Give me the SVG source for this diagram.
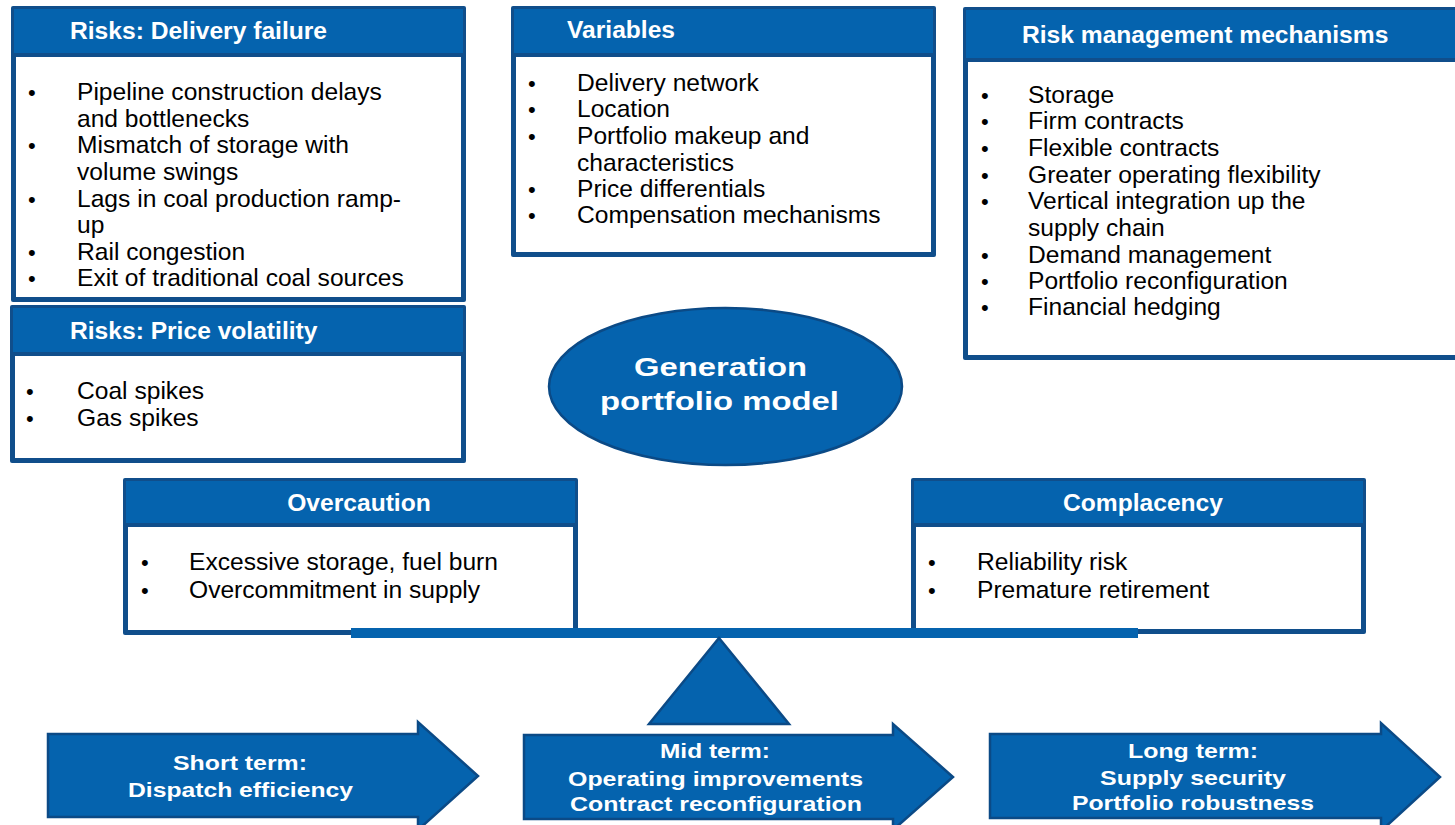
<svg xmlns="http://www.w3.org/2000/svg" width="1455" height="825" viewBox="0 0 1455 825">
  <style>
    .frame { fill: #104E8B; }
    .head { fill: #0563AE; }
    .body { fill: #FFFFFF; }
    .title { font-family: "Liberation Sans", Arial, sans-serif; font-weight: bold; font-size: 24.6px; fill: #FFFFFF; }
    .item { font-family: "Liberation Sans", Arial, sans-serif; font-size: 24.6px; fill: #000000; }
    .dot { font-family: "Liberation Sans", Arial, sans-serif; font-size: 22px; fill: #000000; }
    .shape { fill: #0563AE; stroke: #0B4A86; stroke-width: 2.5; stroke-linejoin: miter; }
    .label { font-family: "Liberation Sans", Arial, sans-serif; font-weight: bold; font-size: 21px; fill: #FFFFFF; text-anchor: middle; }
    .big { font-family: "Liberation Sans", Arial, sans-serif; font-weight: bold; font-size: 25px; fill: #FFFFFF; text-anchor: middle; }
  </style>

  <rect x="0" y="0" width="1455" height="825" fill="#FFFFFF"/>

  <!-- Risks: delivery failure -->
  <g id="risks-delivery">
    <rect class="frame" x="11" y="6" width="455" height="296" rx="2"/>
    <rect class="head" x="14" y="9" width="449" height="44"/>
    <rect class="body" x="16" y="57" width="445" height="240"/>
    <text class="title" x="70" y="39">Risks: Delivery failure</text>
    <g class="dot">
      <text x="28" y="100">•</text>
      <text x="28" y="153">•</text>
      <text x="28" y="207">•</text>
      <text x="28" y="260">•</text>
      <text x="28" y="286">•</text>
    </g>
    <g class="item">
      <text x="77" y="100">Pipeline construction delays</text>
      <text x="77" y="127">and bottlenecks</text>
      <text x="77" y="153">Mismatch of storage with</text>
      <text x="77" y="180">volume swings</text>
      <text x="77" y="207">Lags in coal production ramp-</text>
      <text x="77" y="233">up</text>
      <text x="77" y="260">Rail congestion</text>
      <text x="77" y="286">Exit of traditional coal sources</text>
    </g>
  </g>

  <!-- Risks: price volatility -->
  <g id="risks-price">
    <rect class="frame" x="10" y="305" width="456" height="158" rx="2"/>
    <rect class="head" x="13" y="308" width="450" height="44"/>
    <rect class="body" x="15" y="356" width="446" height="102"/>
    <text class="title" x="70" y="339">Risks: Price volatility</text>
    <g class="dot">
      <text x="26" y="399">•</text>
      <text x="26" y="426">•</text>
    </g>
    <g class="item">
      <text x="77" y="399">Coal spikes</text>
      <text x="77" y="426">Gas spikes</text>
    </g>
  </g>

  <!-- Variables -->
  <g id="variables">
    <rect class="frame" x="511" y="6" width="425" height="251" rx="2"/>
    <rect class="head" x="514" y="9" width="419" height="44"/>
    <rect class="body" x="516" y="57" width="415" height="195"/>
    <text class="title" x="567" y="38">Variables</text>
    <g class="dot">
      <text x="528" y="91">•</text>
      <text x="528" y="117">•</text>
      <text x="528" y="144">•</text>
      <text x="528" y="197">•</text>
      <text x="528" y="223">•</text>
    </g>
    <g class="item">
      <text x="577" y="91">Delivery network</text>
      <text x="577" y="117">Location</text>
      <text x="577" y="144">Portfolio makeup and</text>
      <text x="577" y="171">characteristics</text>
      <text x="577" y="197">Price differentials</text>
      <text x="577" y="223">Compensation mechanisms</text>
    </g>
  </g>

  <!-- Risk management mechanisms -->
  <g id="risk-management">
    <rect class="frame" x="963" y="7" width="520" height="353" rx="2"/>
    <rect class="head" x="966" y="10" width="514" height="48"/>
    <rect class="body" x="968" y="62" width="510" height="293"/>
    <text class="title" x="1022" y="43">Risk management mechanisms</text>
    <g class="dot">
      <text x="981" y="103">•</text>
      <text x="981" y="129">•</text>
      <text x="981" y="156">•</text>
      <text x="981" y="183">•</text>
      <text x="981" y="209">•</text>
      <text x="981" y="263">•</text>
      <text x="981" y="289">•</text>
      <text x="981" y="315">•</text>
    </g>
    <g class="item">
      <text x="1028" y="103">Storage</text>
      <text x="1028" y="129">Firm contracts</text>
      <text x="1028" y="156">Flexible contracts</text>
      <text x="1028" y="183">Greater operating flexibility</text>
      <text x="1028" y="209">Vertical integration up the</text>
      <text x="1028" y="236">supply chain</text>
      <text x="1028" y="263">Demand management</text>
      <text x="1028" y="289">Portfolio reconfiguration</text>
      <text x="1028" y="315">Financial hedging</text>
    </g>
  </g>

  <!-- Central model -->
  <g id="generation-model">
    <ellipse class="shape" cx="725.5" cy="386.5" rx="176.5" ry="78.5" stroke-width="2"/>
    <text class="big" x="720.5" y="376" textLength="173" lengthAdjust="spacingAndGlyphs">Generation</text>
    <text class="big" x="719.5" y="410" textLength="239" lengthAdjust="spacingAndGlyphs">portfolio model</text>
  </g>

  <!-- Overcaution -->
  <g id="overcaution">
    <rect class="frame" x="123" y="478" width="455" height="157" rx="2"/>
    <rect class="head" x="126" y="481" width="449" height="42"/>
    <rect class="body" x="128" y="527" width="445" height="103"/>
    <text class="title" x="359" y="511" text-anchor="middle">Overcaution</text>
    <g class="dot">
      <text x="141" y="570">•</text>
      <text x="141" y="598">•</text>
    </g>
    <g class="item">
      <text x="189" y="570">Excessive storage, fuel burn</text>
      <text x="189" y="598">Overcommitment in supply</text>
    </g>
  </g>

  <!-- Complacency -->
  <g id="complacency">
    <rect class="frame" x="911" y="478" width="455" height="156" rx="2"/>
    <rect class="head" x="914" y="481" width="449" height="42"/>
    <rect class="body" x="916" y="527" width="445" height="102"/>
    <text class="title" x="1143" y="511" text-anchor="middle">Complacency</text>
    <g class="dot">
      <text x="928" y="570">•</text>
      <text x="928" y="598">•</text>
    </g>
    <g class="item">
      <text x="977" y="570">Reliability risk</text>
      <text x="977" y="598">Premature retirement</text>
    </g>
  </g>

  <!-- Balance: beam and fulcrum -->
  <g id="connectors">
    <rect x="351" y="628" width="787" height="10" fill="#0563AE"/>
    <polygon class="shape" points="719,638 789,724 649,724" stroke-width="2"/>
  </g>

  <!-- Time horizon arrows -->
  <g id="short-term">
    <polygon class="shape" points="48,734 418,734 418,722 478,776 418,830 418,817 48,817"/>
    <text class="label" x="240" y="770" textLength="134" lengthAdjust="spacingAndGlyphs">Short term:</text>
    <text class="label" x="240.5" y="797" textLength="225" lengthAdjust="spacingAndGlyphs">Dispatch efficiency</text>
  </g>

  <g id="mid-term">
    <polygon class="shape" points="524,735 893,735 893,724 953,777 893,830 893,819 524,819"/>
    <text class="label" x="715" y="758" textLength="110" lengthAdjust="spacingAndGlyphs">Mid term:</text>
    <text class="label" x="715.5" y="786" textLength="295" lengthAdjust="spacingAndGlyphs">Operating improvements</text>
    <text class="label" x="716" y="811" textLength="292" lengthAdjust="spacingAndGlyphs">Contract reconfiguration</text>
  </g>

  <g id="long-term">
    <polygon class="shape" points="990,734 1381,734 1381,723 1440,777 1381,831 1381,818 990,818"/>
    <text class="label" x="1193" y="758" textLength="130" lengthAdjust="spacingAndGlyphs">Long term:</text>
    <text class="label" x="1193" y="785" textLength="186" lengthAdjust="spacingAndGlyphs">Supply security</text>
    <text class="label" x="1193" y="810" textLength="242" lengthAdjust="spacingAndGlyphs">Portfolio robustness</text>
  </g>
</svg>
